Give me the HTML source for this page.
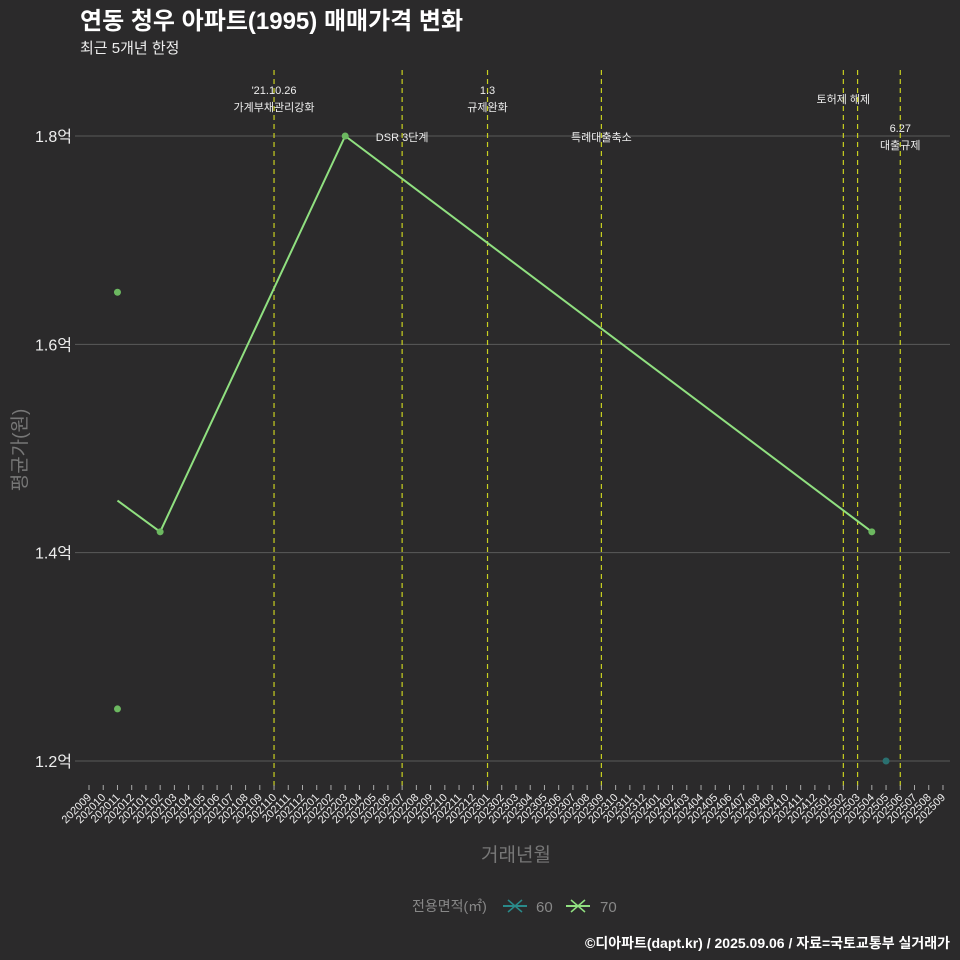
<!DOCTYPE html>
<html><head><meta charset="utf-8">
<style>
html,body{margin:0;padding:0;background:#2b2a2b;}
svg{display:block;font-family:"Liberation Sans","Noto Sans CJK KR",sans-serif;}
</style></head>
<body>
<svg id="chart" width="960" height="960" viewBox="0 0 960 960">
<rect width="960" height="960" fill="#2b2a2b"/>
<text x="80" y="29" font-size="24" font-weight="bold" fill="#fff">연동 청우 아파트(1995) 매매가격 변화</text>
<text x="80" y="53" font-size="15" fill="#eee">최근 5개년 한정</text>
<g id="grid"></g><g id="vlines"></g><g id="series"></g><g id="xaxis"></g>
<text transform="translate(26,450) rotate(-90)" text-anchor="middle" font-size="19" fill="#777">평균가(원)</text>
<text x="516" y="861" text-anchor="middle" font-size="19" fill="#777">거래년월</text>
<g>
<text x="412" y="911" font-size="14" fill="#888">전용면적(㎡)</text>
<g><line x1="503" y1="906" x2="527" y2="906" stroke="#2a8a8a" stroke-width="2"/><path d="M508 900 L522 912 M508 912 L522 900" stroke="#2a8a8a" stroke-width="1.5"/><text x="536" y="912" font-size="15" fill="#888">60</text></g>
<g><line x1="566" y1="906" x2="590" y2="906" stroke="#90e080" stroke-width="2"/><path d="M571 900 L585 912 M571 912 L585 900" stroke="#90e080" stroke-width="1.5"/><text x="600" y="912" font-size="15" fill="#888">70</text></g>
</g>
<text x="950" y="948" text-anchor="end" font-size="14" font-weight="bold" fill="#fff">©디아파트(dapt.kr) / 2025.09.06 / 자료=국토교통부 실거래가</text>
</svg>
<script>
const months=[];for(let y=2020,m=9;!(y===2025&&m>9);){months.push(''+y+(m<10?'0':'')+m);m++;if(m>12){m=1;y++;}}
const yTicks=[1.2,1.4,1.6,1.8];
const lineMonths=['202011','202102','202203','202504'];
const lineValues=[1.45,1.42,1.8,1.42];
const pts70Months=['202011','202011','202102','202203','202504'];
const pts70Values=[1.65,1.25,1.42,1.8,1.42];
const pts60Months=['202505'];
const pts60Values=[1.2];
const eventMonths=['202110','202207','202301','202309','202502','202503','202506'];
const eventLabels=[["'21.10.26","가계부채관리강화"],["DSR 3단계"],["1.3","규제완화"],["특례대출축소"],["토허제 해제"],[],["6.27","대출규제"]];
const eventLabelY=[[94,111],[141],[94,111],[141],[103],[],[132,149]];
const NS='http://www.w3.org/2000/svg';
const X=m=>89+months.indexOf(m)*14.233;
const Y=v=>761-(v-1.2)*1041.7;
function mk(t,a,p){const e=document.createElementNS(NS,t);for(const k in a)e.setAttribute(k,a[k]);p.appendChild(e);return e;}
const grid=document.getElementById('grid');
yTicks.forEach(v=>{
 const l=mk('line',{x1:75,x2:950,y1:Y(v),y2:Y(v),stroke:'#5a5a5a','stroke-width':1},grid);
 
 
 const t=mk('text',{x:72,y:Y(v)+6,'text-anchor':'end','font-size':16,fill:'#eee'},grid);
 t.textContent=v.toFixed(1)+'억';
 
 
});
const vg=document.getElementById('vlines');
eventMonths.forEach((m,i)=>{
 const l=mk('line',{x1:X(m),x2:X(m),y1:70,y2:790,stroke:'#c8d020','stroke-width':1.2,'stroke-dasharray':'5,4'},vg);
 
 
 eventLabels[i].forEach((s,j)=>{
  const t=mk('text',{x:X(m),y:eventLabelY[i][j],'text-anchor':'middle','font-size':11,fill:'#eee'},vg);
  t.textContent=s;
  
  
 });
});
const sg=document.getElementById('series');
const pl=mk('polyline',{points:lineMonths.map((m,i)=>X(m)+','+Y(lineValues[i])).join(' '),fill:'none',stroke:'#90e080','stroke-width':2},sg);


pts70Months.forEach((m,i)=>{
 const c=mk('circle',{cx:X(m),cy:Y(pts70Values[i]),r:3.5,fill:'#6cb860'},sg);
 
 
});
pts60Months.forEach((m,i)=>{
 const c=mk('circle',{cx:X(m),cy:Y(pts60Values[i]),r:3.5,fill:'#2a7070'},sg);
 
 
});
const xg=document.getElementById('xaxis');
months.forEach(m=>{
 const x=X(m);
 const tk=mk('line',{x1:x,x2:x,y1:785,y2:790,stroke:'#aaa','stroke-width':1},xg);
 
 
 const t=mk('text',{x:x+3,y:798,'text-anchor':'end','font-size':11,fill:'#eee',transform:`rotate(-45 ${x+3} 798)`},xg);
 t.textContent=m;
 
 
});
</script>
</body></html>
